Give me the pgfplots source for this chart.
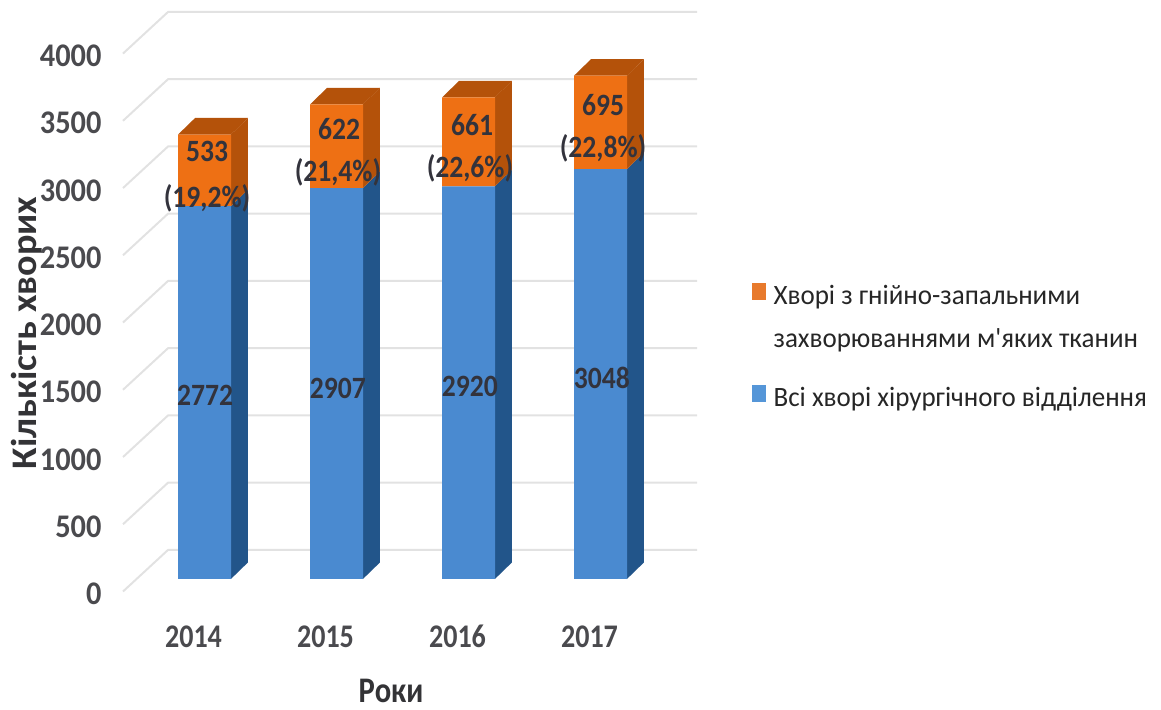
\documentclass[border=0pt]{standalone}
\usepackage{fontspec}
\setmainfont{Carlito}[FakeStretch=0.85]
\newfontfamily\widefont{Carlito}[FakeStretch=1.06]
\newfontfamily\tickfont{Carlito}[FakeStretch=0.92]
\newfontfamily\keyfont{Carlito}[FakeStretch=0.965]
\newfontfamily\valuefont{Carlito}[FakeStretch=0.89]
\usepackage{pgfplots}
\pgfplotsset{compat=1.18}
\definecolor{gridc}{HTML}{E2E2E2}
\definecolor{tickc}{HTML}{4A4A4E}
\definecolor{titlec}{HTML}{333336}
\definecolor{bluef}{HTML}{4A8AD0}
\definecolor{blues}{HTML}{22558A}
\definecolor{orangef}{HTML}{EE7014}
\definecolor{oranges}{HTML}{B4520A}
\definecolor{orangel}{HTML}{E87A2C}
\definecolor{bluel}{HTML}{5596D8}
\definecolor{labelc}{HTML}{33333C}
\pgfplotsset{
  panel/.style={
    at={(123pt,130pt)}, anchor=south west,
    scale only axis, width=574pt, height=567pt,
    xmin=-0.6174, xmax=3.731, ymin=0, ymax=4216,
    clip=false, axis line style={draw=none},
    major tick length=0pt, tick style={draw=none},
  },
  key/.style={
    legend style={at={(axis description cs:1.0958,#1)}, anchor=north west,
      draw=none, fill=none, inner sep=0pt, row sep=16pt, column sep=8pt,
      font=\keyfont\fontsize{28}{32}\selectfont, text=black!85,
      nodes={inner sep=0pt, outer sep=0pt, text height=20pt, text depth=6pt}},
    legend cell align=left,
  },
  swatch/.style={legend image code/.code={\fill[#1] (0pt,-2pt) rectangle (13pt,14pt);}},
}
\newcommand{\barlabel}[3]{\node[font=\valuefont\fontsize{31}{34}\selectfont\bfseries, text=labelc, inner sep=0pt] at (axis cs:#1,#2) {#3};}
\begin{document}
\begin{tikzpicture}[x=1pt,y=1pt]
\path[use as bounding box] (0,0) rectangle (1161,709);

% back wall, depth faces and axis annotation
\begin{axis}[panel,
  xtick={0,1,2,3}, xticklabels={2014,2015,2016,2017},
  ytick={0,500,...,4000},
  /pgf/number format/assume math mode=true,
  /pgf/number format/1000 sep={},
  ticklabel style={text=tickc},
  xticklabel style={font=\fontsize{33}{38}\selectfont\bfseries, anchor=base, xshift=-11pt, yshift=-68pt},
  yticklabel style={font=\tickfont\fontsize{33}{38}\selectfont\bfseries, xshift=-18pt, yshift=-15pt},
  xlabel={Роки}, ylabel={\widefont Кількість хворих},
  label style={font=\fontsize{36}{40}\selectfont\bfseries, text=titlec, inner sep=0pt},
  xlabel style={at={(axis description cs:0.467,-0.198)}, anchor=center},
  ylabel style={at={(axis description cs:-0.168,0.434)}, anchor=center},
]
% grid: slanted floor edge, then the line along the back wall
\addplot[gridc, line width=2pt] coordinates {(-0.6174,-93)(-0.2765,216)(3.731,216)};
\addplot[gridc, line width=2pt] coordinates {(-0.6174,407)(-0.2765,716)(3.731,716)};
\addplot[gridc, line width=2pt] coordinates {(-0.6174,907)(-0.2765,1216)(3.731,1216)};
\addplot[gridc, line width=2pt] coordinates {(-0.6174,1407)(-0.2765,1716)(3.731,1716)};
\addplot[gridc, line width=2pt] coordinates {(-0.6174,1907)(-0.2765,2216)(3.731,2216)};
\addplot[gridc, line width=2pt] coordinates {(-0.6174,2407)(-0.2765,2716)(3.731,2716)};
\addplot[gridc, line width=2pt] coordinates {(-0.6174,2907)(-0.2765,3216)(3.731,3216)};
\addplot[gridc, line width=2pt] coordinates {(-0.6174,3407)(-0.2765,3716)(3.731,3716)};
\addplot[gridc, line width=2pt] coordinates {(-0.6174,3907)(-0.2765,4216)(3.731,4216)};
% right-hand faces, blue part
\addplot[fill=blues,draw=none] coordinates {(0.2,0)(0.3288,123)(0.3288,2895)(0.2,2772)};
\addplot[fill=blues,draw=none] coordinates {(1.2,0)(1.3288,123)(1.3288,3030)(1.2,2907)};
\addplot[fill=blues,draw=none] coordinates {(2.2,0)(2.3288,123)(2.3288,3043)(2.2,2920)};
\addplot[fill=blues,draw=none] coordinates {(3.2,0)(3.3288,123)(3.3288,3171)(3.2,3048)};
% right-hand faces, orange part
\addplot[fill=oranges,draw=none] coordinates {(0.2,2772)(0.3288,2895)(0.3288,3428)(0.2,3305)};
\addplot[fill=oranges,draw=none] coordinates {(1.2,2907)(1.3288,3030)(1.3288,3652)(1.2,3529)};
\addplot[fill=oranges,draw=none] coordinates {(2.2,2920)(2.3288,3043)(2.3288,3704)(2.2,3581)};
\addplot[fill=oranges,draw=none] coordinates {(3.2,3048)(3.3288,3171)(3.3288,3866)(3.2,3743)};
% top faces
\addplot[fill=oranges,draw=none] coordinates {(-0.2,3305)(0.2,3305)(0.3288,3428)(-0.0712,3428)};
\addplot[fill=oranges,draw=none] coordinates {(0.8,3529)(1.2,3529)(1.3288,3652)(0.9288,3652)};
\addplot[fill=oranges,draw=none] coordinates {(1.8,3581)(2.2,3581)(2.3288,3704)(1.9288,3704)};
\addplot[fill=oranges,draw=none] coordinates {(2.8,3743)(3.2,3743)(3.3288,3866)(2.9288,3866)};
\end{axis}

% front faces and the two-line key entry
\begin{axis}[panel, key=0.522,
  ybar stacked, bar width=53pt,
  xtick=\empty, ytick=\empty,
]
\addplot[fill=bluef,draw=none,forget plot] coordinates {(0,2772)(1,2907)(2,2920)(3,3048)};
\addplot[fill=orangef,draw=none,forget plot] coordinates {(0,533)(1,622)(2,661)(3,695)};
\addlegendimage{swatch=orangel}
\addlegendentry{Хворі з гнійно-запальними}
\addlegendimage{swatch=white}
\addlegendentry{захворюваннями м'яких тканин}
\end{axis}

% value labels above the bars and the second key entry
\begin{axis}[panel, key=0.342, xtick=\empty, ytick=\empty]
\addlegendimage{swatch=bluel}
\addlegendentry{Всі хворі хірургічного відділення}
\barlabel{0.004}{1368}{2772}
\barlabel{1.011}{1420}{2907}
\barlabel{2.011}{1435}{2920}
\barlabel{3.011}{1494}{3048}
\barlabel{0.019}{3182}{533}
\barlabel{1.019}{3346}{622}
\barlabel{2.027}{3375}{661}
\barlabel{3.019}{3524}{695}
\barlabel{0.019}{2833}{(19,2\%)}
\barlabel{1.011}{3026}{(21,4\%)}
\barlabel{2.011}{3056}{(22,6\%)}
\barlabel{3.019}{3204}{(22,8\%)}
\end{axis}
\end{tikzpicture}
\end{document}
